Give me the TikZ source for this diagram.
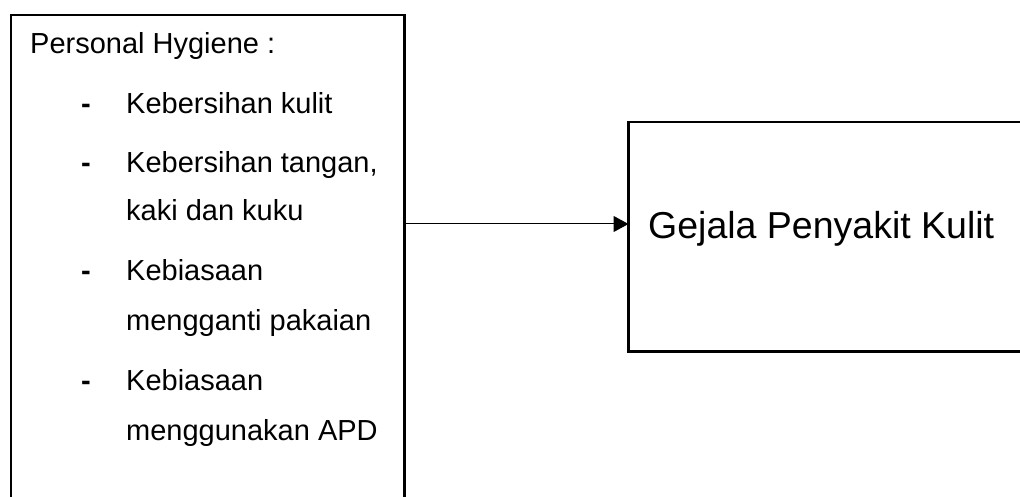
\documentclass[tikz,border=0pt]{standalone}
\usepackage{fontspec}
\setmainfont{Liberation Sans}
\usepackage{tikz}
\usetikzlibrary{arrows.meta}

\begin{document}
\begin{tikzpicture}[x=1pt, y=-1pt, box/.style = {draw, line width=2.2pt, inner sep=0pt, outer sep=0pt, anchor=north west}, txt/.style = {anchor=base west, inner sep=0pt, font=\fontsize{29pt}{29pt}\selectfont}, dsh/.style = {txt, font=\fontsize{29pt}{29pt}\selectfont\bfseries}]
		\useasboundingbox (0,0) rectangle (1020,497);
		\node[box, minimum width=393.5pt, minimum height=520pt] (hyg) at (11,15) {};
		\node[box, minimum width=420pt, minimum height=229.5pt] (gejala) at (628.5,122) {};
		
		\node[txt] (judul) at (30,54) {Personal Hygiene :};
		\node[dsh] (d1) at (81,114) {-};
		\node[txt] (k1) at (126,114) {Kebersihan kulit};
		\node[dsh] (d2) at (81,173) {-};
		\node[txt] (k2) at (126,173) {Kebersihan tangan,};
		\node[txt] (k2b) at (126,221) {kaki dan kuku};
		\node[dsh] (d3) at (81,280) {-};
		\node[txt] (k3) at (126,280) {Kebiasaan};
		\node[txt] (k3b) at (126,330) {mengganti pakaian};
		\node[dsh] (d4) at (81,390) {-};
		\node[txt] (k4) at (126,390) {Kebiasaan};
		\node[txt] (k4b) at (126,440) {menggunakan APD};
		\node[txt, font=\fontsize{37.5pt}{37.5pt}\selectfont] (label) at (648,239) {Gejala Penyakit Kulit};
		
		\coordinate (join) at (0,224);
		\draw[-{Triangle[length=15pt, width=16pt]}, line width=1pt] (hyg.east |- join) -- (gejala.west |- join);
	\end{tikzpicture}
\end{document}
